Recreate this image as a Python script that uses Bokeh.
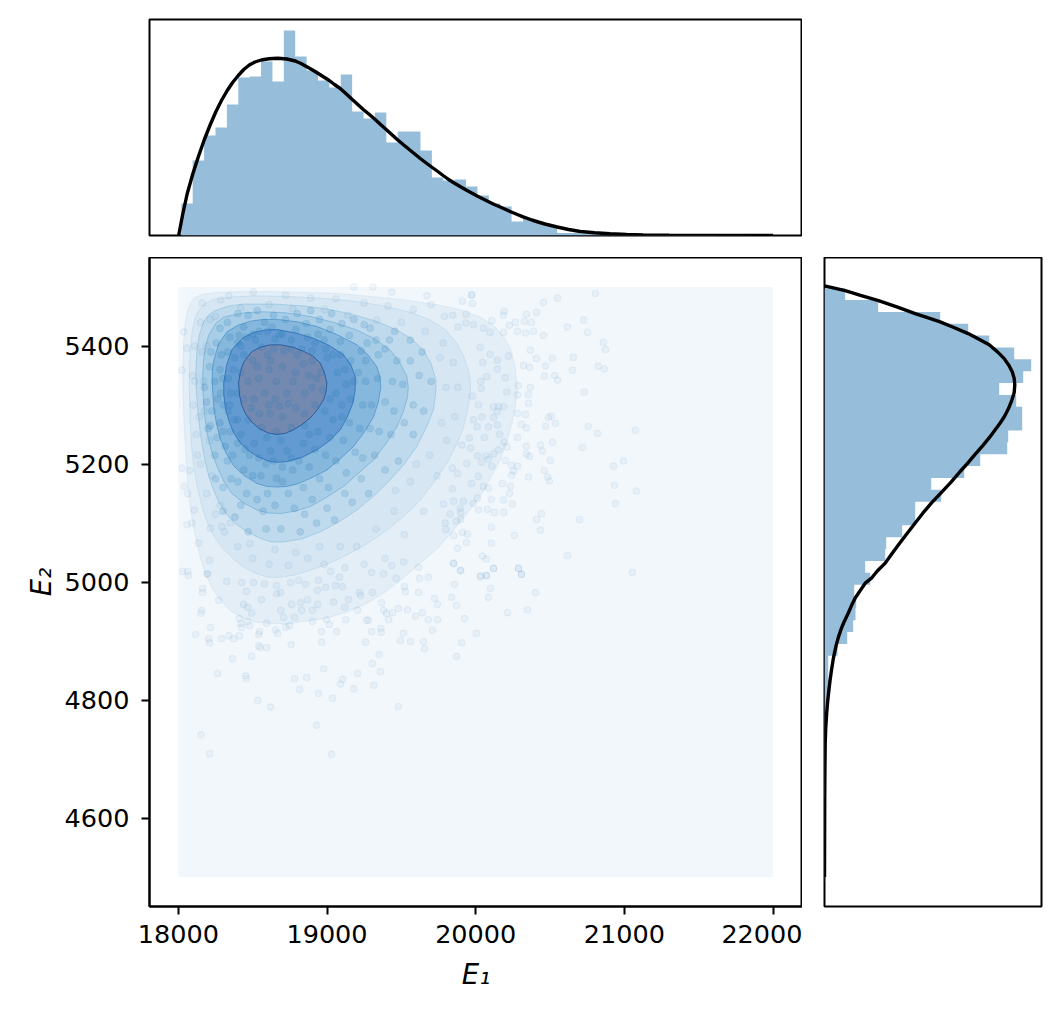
from bokeh.plotting import figure
from bokeh.models import Range1d, FixedTicker, Spacer
from bokeh.layouts import column, row
from bokeh.embed import file_html
from bokeh.resources import INLINE
import numpy as np

x_ticks = [18000, 19000, 20000, 21000, 22000]
y_ticks = [4600, 4800, 5000, 5200, 5400]
x_label = "E₁"
y_label = "E₂"

grid_x = [18000, 22000]
grid_y = [4500, 5500]

# marginal histogram of E1
e1_bin_first, e1_bin_last = 18020, 21850
e1_hist = [32, 75, 100, 108, 131, 158, 159, 174, 154, 205, 179, 165, 155, 148, 161, 124, 117,
           123, 93, 104, 104, 85, 58, 55, 56, 49, 40, 32, 29, 14, 17, 13, 10, 2.5, 2.5, 2, 1.5,
           1, 1, 1, .5, .5, .5, .5, .5, .4, .4, .3, .3, .3]
# marginal histogram of E2 (from top to bottom)
e2_bin_first, e2_bin_last = 5498, 4493
e2_hist = [20.7, 53.7, 115.7, 143.7, 164.7, 189.7, 206.7, 198.7, 174.7, 191.7, 197.7, 197.7,
           183.7, 182.7, 155.7, 139.7, 106.7, 116.7, 90.7, 90.7, 77.7, 61.7, 60.7, 40.7, 45.7,
           29.7, 31.7, 31, 28.7, 22.7, 13, 3.7, 3.7, 5.7, 3.7, 2, 2, 1.5, 1, 1, .7, .5, .5, .3,
           .3, .3, .2, .2, .2, .2]

e1_curve_x = [18002, 18015, 18029, 18060, 18096, 18135, 18175, 18215, 18253, 18290, 18329, 18365, 18403, 18440, 18477, 18515, 18558, 18610, 18668, 18730, 18787, 18825, 18861, 18900, 18941, 18978, 19015, 19050, 19089, 19130, 19170, 19207, 19244, 19285, 19324, 19360, 19398, 19435, 19472, 19512, 19553, 19590, 19627, 19667, 19708, 19745, 19781, 19818, 19855, 19895, 19936, 19973, 20010, 20047, 20084, 20125, 20165, 20202, 20239, 20280, 20319, 20387, 20465, 20548, 20625, 20703, 20800, 20904, 21015, 21126, 21300, 21600, 22000]
e1_curve_y = [0, 10, 21, 42, 61, 79, 96, 111, 124, 135, 145, 153, 160, 166, 170.5, 173.5, 175.5, 176.7, 177.3, 176.5, 174.5, 172, 169, 165.7, 162, 158.5, 155, 151, 147, 141.5, 136, 131, 126, 121, 116, 111, 106, 101, 96, 91, 86, 81.5, 77, 72.5, 68, 64, 60, 56, 52.5, 49, 45.5, 42.5, 39.5, 36.7, 34, 31, 28.5, 26, 23.5, 21, 18.7, 15, 11.5, 8.5, 6, 4, 2.7, 1.7, 1, .6, .3, .1, 0]
e2_curve_y = [5502, 5494, 5486, 5477, 5466, 5455, 5448, 5441, 5431, 5421, 5411, 5402, 5390, 5379, 5367, 5356, 5345, 5334, 5321, 5308, 5294, 5280, 5269, 5258, 5245, 5232, 5217, 5201, 5186, 5170, 5152, 5134, 5117, 5100, 5081, 5063, 5047, 5032, 5019, 5006, 4998, 4985, 4973, 4960, 4947, 4934, 4922, 4907, 4893, 4872, 4851, 4834, 4817, 4798, 4778, 4752, 4727, 4680, 4625, 4500]
e2_curve_x = [0, 20.7, 36, 54, 73, 90.7, 103, 115.7, 130, 143.7, 155, 164.7, 173, 179.5, 184.5, 187.8, 189.7, 190.3, 189.7, 187.3, 184, 179.8, 175.5, 170.7, 165, 158.7, 151, 143, 135, 127, 117, 107, 98.5, 90.7, 82, 74, 67, 60.7, 53, 46.7, 40.7, 35.5, 30.7, 27, 23.7, 20, 17, 14, 11.7, 9, 7, 5.6, 4.4, 3.2, 2.2, 1.2, .7, .4, .2, 0]

# density contours, outermost first
c1_x = [18047, 18060, 18080, 18110, 18170, 18280, 18394, 18620, 18842, 19070, 19291, 19520, 19739, 19900, 20030, 20120, 20187, 20235, 20265, 20274, 20277, 20265, 20243, 20208, 20165, 20102, 20030, 19945, 19851, 19745, 19627, 19505, 19380, 19247, 19111, 18978, 18842, 18730, 18618, 18525, 18439, 18352, 18282, 18226, 18181, 18150, 18125, 18100, 18080, 18065, 18054, 18044, 18036, 18032, 18031, 18036]
c1_y = [5439, 5458, 5472, 5482, 5488, 5491, 5492, 5492, 5491, 5489, 5484, 5478, 5470, 5461, 5449, 5435, 5416, 5395, 5365, 5343, 5320, 5295, 5269, 5238, 5207, 5177, 5145, 5117, 5088, 5057, 5032, 5005, 4981, 4961, 4947, 4938, 4933, 4929, 4930, 4932, 4939, 4951, 4970, 4990, 5015, 5040, 5066, 5096, 5128, 5167, 5207, 5247, 5286, 5329, 5371, 5407]
c2_x = [18092, 18110, 18136, 18180, 18237, 18370, 18506, 18730, 18954, 19180, 19403, 19560, 19694, 19795, 19873, 19920, 19956, 19965, 19963, 19945, 19918, 19870, 19806, 19722, 19627, 19518, 19403, 19270, 19134, 19010, 18887, 18785, 18686, 18605, 18529, 18445, 18372, 18300, 18237, 18193, 18159, 18128, 18103, 18089, 18080, 18075, 18074, 18080]
c2_y = [5422, 5445, 5460, 5472, 5479, 5483, 5485, 5484, 5481, 5476, 5467, 5457, 5444, 5428, 5405, 5382, 5354, 5337, 5320, 5292, 5263, 5232, 5201, 5170, 5139, 5112, 5088, 5065, 5046, 5031, 5020, 5012, 5008, 5008, 5014, 5024, 5039, 5057, 5079, 5102, 5128, 5161, 5196, 5232, 5269, 5312, 5354, 5390]
c3_x = [18125, 18143, 18170, 18205, 18249, 18340, 18439, 18640, 18842, 19015, 19179, 19330, 19470, 19570, 19649, 19700, 19732, 19733, 19729, 19716, 19668, 19604, 19520, 19425, 19315, 19201, 19080, 18954, 18830, 18708, 18625, 18551, 18462, 18383, 18320, 18271, 18228, 18193, 18168, 18148, 18132, 18121, 18119]
c3_y = [5393, 5420, 5441, 5453, 5460, 5468, 5471, 5471, 5468, 5462, 5453, 5442, 5427, 5412, 5393, 5370, 5342, 5330, 5317, 5292, 5262, 5230, 5200, 5173, 5146, 5122, 5102, 5085, 5073, 5068, 5068, 5074, 5085, 5099, 5116, 5136, 5162, 5190, 5220, 5252, 5289, 5326, 5360]
c4_x = [18170, 18182, 18204, 18250, 18305, 18435, 18573, 18730, 18887, 19045, 19201, 19320, 19425, 19490, 19537, 19546, 19542, 19512, 19470, 19395, 19313, 19210, 19111, 19000, 18887, 18785, 18686, 18605, 18529, 18440, 18361, 18305, 18260, 18222, 18193, 18175, 18166, 18164]
c4_y = [5376, 5398, 5418, 5438, 5449, 5456, 5458, 5456, 5450, 5440, 5427, 5412, 5393, 5372, 5348, 5331, 5314, 5288, 5263, 5234, 5207, 5184, 5162, 5144, 5128, 5120, 5116, 5117, 5122, 5134, 5150, 5171, 5196, 5223, 5252, 5285, 5320, 5350]
c5_x = [18228, 18228, 18237, 18270, 18327, 18400, 18484, 18570, 18663, 18800, 18932, 19070, 19201, 19275, 19335, 19355, 19362, 19345, 19313, 19250, 19179, 19090, 19000, 18900, 18798, 18730, 18663, 18595, 18529, 18445, 18372, 18322, 18282, 18255, 18237]
c5_y = [5337, 5356, 5374, 5403, 5424, 5435, 5442, 5445, 5445, 5441, 5433, 5419, 5402, 5385, 5365, 5349, 5331, 5305, 5280, 5254, 5230, 5209, 5190, 5177, 5166, 5162, 5161, 5162, 5167, 5180, 5197, 5218, 5243, 5270, 5299]
c6_x = [18305, 18325, 18361, 18430, 18506, 18585, 18663, 18790, 18910, 19015, 19111, 19160, 19190, 19189, 19174, 19135, 19089, 19015, 18932, 18830, 18730, 18675, 18618, 18535, 18461, 18412, 18372, 18340, 18316, 18306]
c6_y = [5337, 5368, 5394, 5413, 5423, 5427, 5428, 5422, 5413, 5401, 5385, 5368, 5348, 5325, 5303, 5279, 5258, 5239, 5224, 5211, 5204, 5203, 5204, 5212, 5225, 5237, 5253, 5273, 5296, 5317]
c7_x = [18405, 18417, 18439, 18492, 18551, 18620, 18686, 18770, 18842, 18905, 18954, 18982, 18999, 18993, 18977, 18935, 18887, 18832, 18775, 18720, 18663, 18600, 18540, 18490, 18450, 18426, 18412]
c7_y = [5337, 5356, 5372, 5390, 5398, 5402, 5402, 5398, 5391, 5383, 5371, 5355, 5337, 5322, 5309, 5292, 5278, 5267, 5258, 5252, 5250, 5253, 5261, 5272, 5286, 5300, 5316]

# samples: the scattered ones
pts = [
 (18152,4741),(18210,4709),(19031,4708),(18930,4757),(19481,4789),(18533,4799),(18621,4788),(18264,4845),(18452,4841),(18459,4836),
 (18782,4836),(18863,4838),(18816,4818),(18943,4811),(19037,4803),(19091,4827),(19105,4835),(19179,4819),(19315,4825),(19205,4845),
 (19360,4848),(19306,4862),(19351,4877),(18977,4853),(18365,4870),(18493,4874),(18540,4892),(18551,4889),(18594,4889),(18759,4894),
 (18963,4898),(19259,4898),(19871,4874),(19656,4887),(19649,4899),(19562,4899),(19494,4901),(19905,4897),(20005,4913),(19515,4913),
 (19710,4918),(19362,4921),(19367,4915),(19300,4916),(19064,4916),(18963,4916),(18116,4911),(18204,4904),(18210,4897),(18291,4904),
 (18340,4909),(18372,4904),(18412,4909),(18217,4923),(18540,4911),(18547,4916),(18654,4919),(18668,4913),(18721,4923),(18748,4926),
 (18152,4947),(18157,4952),(18271,4969),(18163,4989),(18163,4982),(18029,5018),(18063,5018),(18069,5011),(18412,4938),(18421,4930),
 (18426,4923),(18479,4926),(18466,4933),(18594,4930),(18903,4933),(18997,4936),(19017,4928),(19125,4936),(19266,4935),(19279,4935),
 (19414,4936),(19400,4947),(19380,4952),(19441,4948),(19481,4955),(19542,4953),(19595,4942),(19642,4948),(19683,4936),(19743,4936),
 (19925,4938),(19871,4960),(19837,4974),(19743,4962),(19723,4972),(20086,4974),(20214,4948),(20348,4953),(20402,4982),(20100,4989),
 (19858,4996),(20032,5009),(20073,5011),(20120,5023),(20288,5023),(20308,5013),(19898,5019),(19851,5031),(19683,5008),(19622,5006),
 (19616,4982),(19521,4992),(19526,4984),(18197,5013),(18325,5001),(18426,4999),(18459,4984),(18506,4999),(18580,4997),(18661,4994),
 (18661,4980),(18688,4982),(18755,4999),(18809,5003),(18856,4996),(18936,4986),(18990,4991),(19057,4994),(19105,4992),(18943,5003),
 (19084,5008),(19024,5018),(18560,4970),(18439,4962),(18466,4957),(18493,4947),(18688,4952),(18762,4962),(18822,4965),(18869,4970),
 (18936,4962),(18829,4952),(18903,4952),(19044,4966),(19145,4970),(19118,4957),(19219,4982),(19226,4977),(19306,4982),(19205,4952),
 (19367,4965),(18708,4940),(18782,4940),(19465,5006),(19380,5014),(19515,5034),(19616,5025),(19436,5028),(19300,5016),
 (20805,5489),(20550,5481),(20456,5474),(19972,5486),(19911,5476),(19978,5472),(20193,5459),(20187,5452),(20341,5454),(20409,5457),
 (20328,5442),(20375,5440),(20267,5440),(20227,5435),(20281,5425),(20335,5422),(20388,5425),(20456,5418),(20617,5432),(20725,5444),
 (20752,5423),(20859,5406),(20873,5394),(20368,5393),(20409,5379),(20516,5379),(20657,5381),(20321,5367),(20362,5364),(20469,5366),
 (20651,5359),(20825,5366),(20866,5361),(20462,5349),(20530,5350),(20550,5342),(20368,5330),(20288,5333),(20281,5317),(20355,5318),
 (20731,5322),(20355,5303),(20281,5286),(20335,5284),(20489,5279),(20510,5281),(20536,5269),(20469,5264),(20308,5267),(20341,5261),
 (20758,5264),(20819,5252),(21074,5257),(20281,5245),(20516,5237),(20436,5232),(20449,5222),(20341,5230),(20718,5228),(20341,5217),
 (20362,5213),(20503,5206),(20994,5205),(20926,5196),(20281,5196),(20241,5198),(20254,5188),(20462,5189),(20241,5181),(20355,5178),
 (20483,5178),(20496,5171),(20180,5167),(20234,5162),(20086,5159),(20933,5164),(21081,5154),(20227,5150),(20106,5140),(20187,5139),
 (20247,5132),(20940,5133),(20019,5122),(20079,5123),(20126,5118),(20187,5118),(20442,5116),(20409,5106),(20698,5106),(20106,5093),
 (20436,5088),(20261,5079),(19945,5081),(19911,5084),(20106,5066),(19938,5067),(19878,5057),(20617,5045),(20046,5044),(20072,5039),
 (19851,5032),(20120,5023),(20288,5023),(20308,5013),(19898,5020),(20032,5010),(20072,5011),(21054,5016),
 (20187,5423),(20097,5423),(20052,5430),(19985,5436),(20108,5443),(19936,5454),(19846,5452),(19934,5439),(20030,5398),(20097,5386),
 (20220,5383),(20146,5376),(20048,5372),(20146,5361),(20075,5348),(20034,5340),(20198,5346),(20037,5328),(20209,5322),(19978,5315),
 (20019,5300),(20153,5297),(20187,5297),(20120,5297),(20146,5289),(20041,5280),(20120,5279),(19985,5275),(20146,5266),(20086,5263),
 (20010,5263),(20160,5250),(20059,5245),(19958,5244),(20191,5237),(19965,5227),(20209,5229),(19907,5232),(20153,5224),(20120,5217),
 (20012,5214),(20068,5214),(20086,5208),(20039,5203),(20200,5206),(19940,5201),(20108,5196),(19844,5193),(19878,5184),(20019,5179),
 (19972,5167),(20052,5162),(19844,5158),(19918,5137),(19851,5137),(20012,5142),(19985,5133),(19895,5125),(19900,5118),(19828,5115),
 (19900,5106),(19869,5103),(19795,5100),(19801,5089),(19851,5079),(19783,5132),
 (18024,5359),(18036,5424),(18058,5396),(18024,5193),(18076,5189),(18040,5162),(18063,5150),(18107,5122),(18058,5097),(18092,5100),
 (18136,5066),(18215,5091),(18293,5094),(18210,5037),(18192,5014),(19179,5500),(19309,5500),(19436,5491),(19672,5485),(19974,5487),
 (18160,5473),(18285,5478),(18340,5485),(18505,5492),(18720,5486),(18890,5481),(19060,5480),(19250,5473),(19410,5468),(19580,5462),
 (19700,5470),(19790,5450),(19880,5432),(18150,5440),(18250,5450),(18420,5465),(18610,5470),(18770,5463),(18985,5462),(19140,5452),
 (19335,5444),(19500,5440),(19660,5425),(19780,5405),(19850,5372),(19880,5330),(19860,5280),(19805,5240),(19740,5180),(19650,5120),
 (19520,5080),(19390,5040),(19250,5030),(19120,5024),(18980,5030),(18870,5040),(18740,5028),(18610,5030),(18500,5040),(18400,5060),
 (18310,5085),(18250,5115),(18190,5150),(18150,5200),(18120,5250),(18100,5300),(18095,5350),(18110,5400),(18170,5340),(18140,5280),
 (18190,5400),(18215,5445),(18160,5390),(18175,5290),(18210,5240),
 (19200,5060),(19330,5090),(19450,5120),(19560,5170),(19690,5215),(19770,5270),(19800,5330),(19760,5380),(18950,5060),(18790,5050),
 (18650,5055),(18480,5065),(18350,5100),(18280,5130),(18225,5180),(18130,5215),(18110,5340),(19600,5200),(19460,5155),(19090,5060),
]
pts_x = [q[0] for q in pts]
pts_y = [q[1] for q in pts]

# samples: the crowded middle, where marks pile up
crowd = [
 (18250,5175),(18300,5120),(18380,5110),(18470,5085),(18590,5090),
 (18690,5090),(18820,5085),(18930,5100),(19050,5105),(19170,5135),(19280,5150),(19390,5190),(19480,5205),(19580,5250),(19650,5290),
 (19700,5340),(19640,5390),(19560,5410),(19455,5425),(19330,5410),(19250,5436),(19100,5438),(18950,5445),(18800,5455),(18640,5452),
 (18470,5452),(18330,5440),(18255,5405),(18210,5365),(18190,5305),(18215,5265),(18245,5215),(18300,5160),(18420,5130),(18530,5140),
 (18650,5130),(18780,5125),(18900,5140),(19010,5160),(19130,5185),(19240,5210),(19350,5255),(19450,5290),(19510,5335),(19470,5375),
 (19390,5395),(19270,5405),(19150,5418),(19020,5428),(18860,5438),(18720,5445),(18580,5440),(18440,5432),(18345,5415),(18290,5385),
 (18245,5340),(18225,5290),(18260,5245),(18330,5205),(18400,5170),(18500,5180),(18600,5150),(18700,5170),(18840,5160),(18950,5175),
 (19060,5205),(19190,5220),(19290,5260),(19390,5305),(19440,5340),(19345,5385),(19230,5392),(19090,5408),(18940,5420),(18790,5428),
 (18630,5432),(18500,5420),(18400,5405),(18280,5360),(18265,5310),(18280,5270),(18315,5230),(18365,5215),(18440,5190),(18555,5180),
 (18660,5176),(18770,5190),(18880,5195),(18990,5215),(19110,5240),(19220,5260),(19300,5300),(19340,5345),(19260,5375),(19160,5375),
 (18990,5395),(18870,5415),(18700,5420),(18600,5425),(18460,5415),(18380,5380),(18335,5345),(18285,5320),(18335,5290),(18350,5255),
 (18400,5235),(18480,5215),(18590,5200),(18700,5195),(18810,5205),(18920,5225),(19020,5245),(19100,5280),(19160,5310),(19180,5340),
 (19120,5360),(19040,5385),(18920,5405),(18760,5410),(18650,5412),(18520,5410),(18420,5400),(18370,5360),(18350,5320),(18375,5275),
 (18420,5250),(18510,5235),(18620,5222),(18730,5222),(18840,5235),(18940,5255),(19040,5275),(19060,5320),(19130,5335),(19070,5355),
 (19000,5380),(18900,5392),(18420,5355),(18440,5310),(18470,5275),(18560,5262),(18660,5255),(18760,5262),(18850,5285),(18920,5300),
 (18970,5325),(18960,5355),(18900,5375),(18800,5385),(18710,5392),(18600,5385),(18500,5375),(18470,5340),(18510,5310),(18545,5285),
 (18620,5285),(18700,5280),(18790,5295),(18850,5320),(18880,5350),(18790,5355),(18700,5365),(18610,5360),(18540,5345),(18580,5320),
 (18650,5310),(18730,5320),(18770,5340),(18660,5340),(18620,5375),(18840,5370),(18490,5295),(18740,5302),(18610,5300),(18680,5298),
 (18530,5365),(18900,5330),(18850,5265),(18595,5245),(18690,5240),(18440,5385),(18560,5398),(18640,5395),(18760,5395),(18930,5345),
 (18345,5300),(18395,5320),(18400,5275),(18450,5225),(18540,5210),(18640,5205),(18760,5210),(18880,5250),(18985,5290),(19020,5310),
 (19100,5300),(19150,5270),(19240,5300),(19260,5340),(19210,5355),(19090,5385),(18980,5410),(18830,5395),(18680,5420),(18545,5425),
 (18410,5418),(18330,5390),(18300,5345),(18305,5300),(18300,5255),(18355,5175),(18460,5150),(18570,5120),(18740,5150),(18850,5115),
 (19000,5125),(19120,5150),(19230,5175),(19320,5215),(19430,5250),(19520,5270),(19580,5300),(19620,5350),(19560,5375),(19420,5410),
 (19290,5430),(19180,5445),(19030,5455),(18890,5460),(18530,5460),(18400,5455),(18280,5430),(18220,5390),(18175,5330),(18200,5260),
]
crowd_x = [q[0] for q in crowd]
crowd_y = [q[1] for q in crowd]

BLUE = "#1f77b4"
HIST = "#96bdda"
band_fill = ["#e3eef7", "#d6e6f3", "#bfdaed", "#a7cde7", "#86b7dd", "#639ad1", "#7389b0"]
band_line = ["#d6e4f0", "#c2daec", "#9ac6e0", "#7ab3d8", "#4f94cb", "#2a70b5", "#1f4f95"]
FONT = "DejaVu Sans"


def frame(p):
    p.grid.visible = False
    p.outline_line_color = "black"
    p.outline_line_width = 2
    p.outline_line_alpha = 1
    p.background_fill_color = "white"


def step_outline(edges, values):
    along = np.repeat(edges, 2)
    across = np.concatenate(([0], np.repeat(values, 2), [0]))
    return along, across


xr = Range1d(17806, 22198)
yr = Range1d(4450, 5550)

main = figure(frame_width=653, frame_height=649, x_range=xr, y_range=yr, toolbar_location=None,
              output_backend="svg", min_border_left=149, min_border_right=0, min_border_top=0,
              min_border_bottom=90)
frame(main)
main.quad(left=[grid_x[0]], right=[grid_x[1]], bottom=[grid_y[0]], top=[grid_y[1]],
          fill_color="#f2f7fb", line_color=None)
contours = [(c1_x, c1_y), (c2_x, c2_y), (c3_x, c3_y), (c4_x, c4_y), (c5_x, c5_y), (c6_x, c6_y), (c7_x, c7_y)]
for (cx, cy), fc, lc in zip(contours, band_fill, band_line):
    main.patch(cx, cy, fill_color=fc, line_color=lc, line_width=0.8)
main.scatter(pts_x, pts_y, size=6.5, marker="circle", fill_color=BLUE, fill_alpha=0.05,
             line_color=BLUE, line_alpha=0.07, line_width=1.2)
main.scatter(crowd_x, crowd_y, size=7, marker="circle", fill_color=BLUE, fill_alpha=0.16,
             line_color=BLUE, line_alpha=0.1, line_width=1.0)
main.xaxis.ticker = FixedTicker(ticks=x_ticks)
main.yaxis.ticker = FixedTicker(ticks=y_ticks)
main.xaxis.axis_label = x_label
main.yaxis.axis_label = y_label
for ax in (main.xaxis[0], main.yaxis[0]):
    ax.axis_line_width = 2
    ax.major_tick_line_width = 2
    ax.major_tick_out = 8
    ax.major_tick_in = 0
    ax.minor_tick_line_color = None
    ax.major_label_text_font = FONT
    ax.major_label_text_font_size = "25.5px"
    ax.major_label_text_color = "black"
    ax.axis_label_text_font = FONT
    ax.axis_label_text_font_size = "27.5px"
    ax.axis_label_text_font_style = "italic"
    ax.axis_label_text_color = "black"
main.xaxis[0].major_label_standoff = 10
main.xaxis[0].axis_label_standoff = 12
main.yaxis[0].major_label_standoff = 12
main.yaxis[0].axis_label_standoff = 5
main.yaxis[0].major_label_orientation = "horizontal"

top = figure(frame_width=653, frame_height=216, x_range=xr, y_range=Range1d(0, 216),
             toolbar_location=None, output_backend="svg", min_border_left=149, min_border_right=0,
             min_border_top=19, min_border_bottom=22)
frame(top)
top.axis.visible = False
edges_x = np.linspace(e1_bin_first, e1_bin_last, len(e1_hist) + 1)
ax_x, ax_h = step_outline(edges_x, e1_hist)
top.patch(ax_x, ax_h, fill_color=HIST, line_color=None)
top.line(e1_curve_x, e1_curve_y, line_color="black", line_width=3.4)

right = figure(frame_width=217, frame_height=649, x_range=Range1d(0, 217), y_range=yr,
               toolbar_location=None, output_backend="svg", min_border_left=22, min_border_right=10,
               min_border_top=0, min_border_bottom=90)
frame(right)
right.axis.visible = False
edges_y = np.linspace(e2_bin_first, e2_bin_last, len(e2_hist) + 1)
ay_y, ay_h = step_outline(edges_y, e2_hist)
right.patch(ay_h, ay_y, fill_color=HIST, line_color=None)
right.line(e2_curve_x, e2_curve_y, line_color="black", line_width=3.4)

layout = column(row(top, Spacer(width=249, height=257)), row(main, right), spacing=0)
open("out.html", "w").write(file_html(layout, INLINE))
